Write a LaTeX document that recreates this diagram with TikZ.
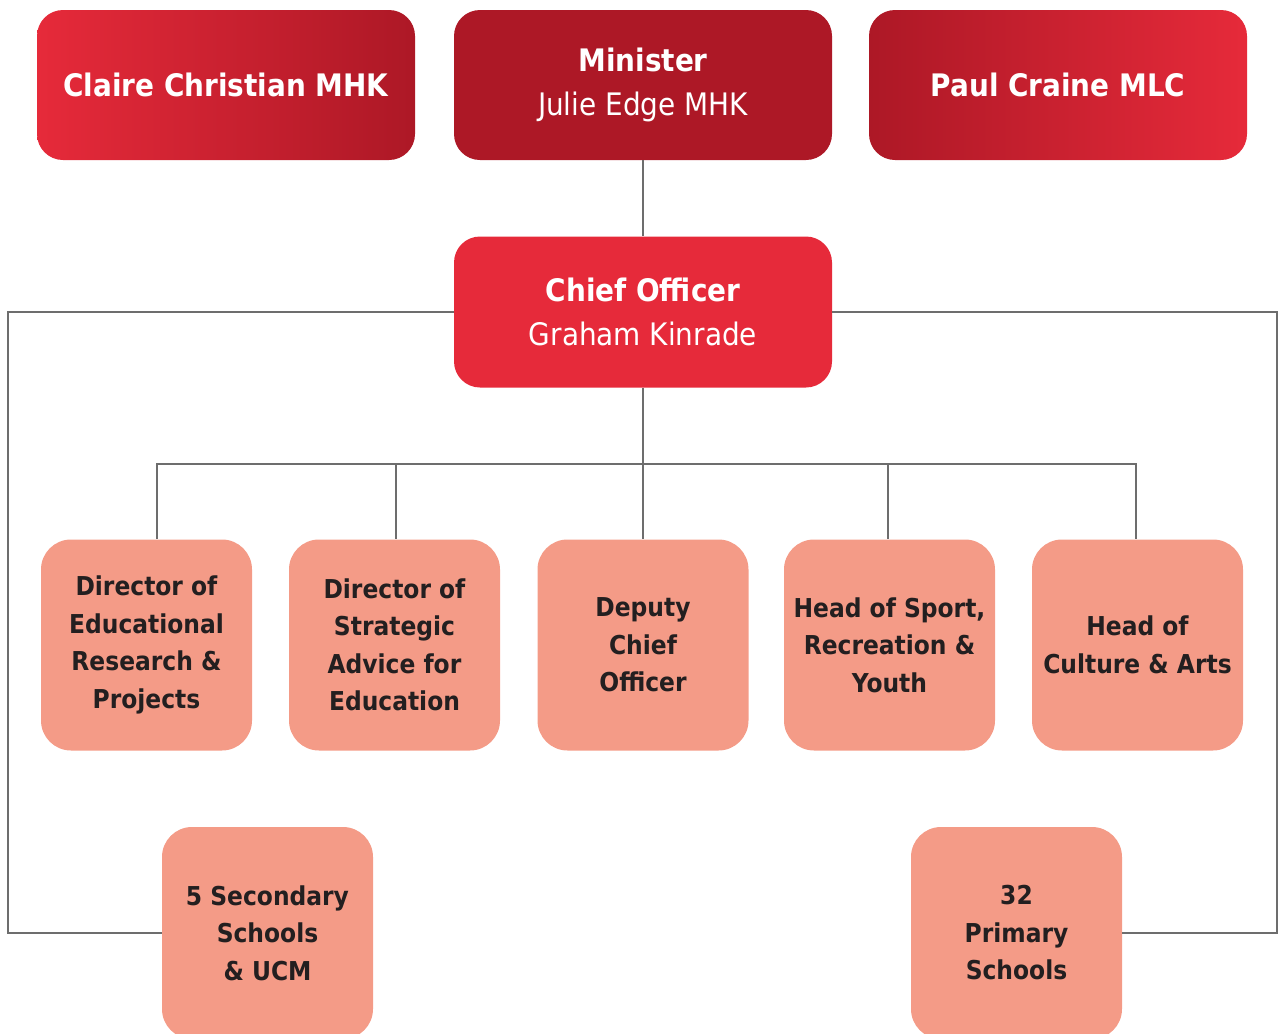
\documentclass[tikz,border=0pt]{standalone}
\usepackage{fontspec}
\setmainfont{DejaVu Sans Condensed}
\definecolor{darkred}{HTML}{AD1826}
\definecolor{brightred}{HTML}{E62A3A}
\definecolor{salmon}{HTML}{F49B87}
\definecolor{ink}{HTML}{231F20}
\definecolor{wire}{HTML}{6D6D6D}
\begin{document}
\begin{tikzpicture}[x=1pt,y=-1pt,
  topbox/.style={minimum width=378pt,minimum height=150pt,rounded corners=26pt,
    inner sep=0pt,align=center,text=white,font=\fontsize{31}{44}\selectfont},
  unitbox/.style={minimum width=211pt,minimum height=211pt,rounded corners=30pt,
    inner sep=0pt,align=center,fill=salmon,text=ink,
    font=\bfseries\fontsize{26}{37.5}\selectfont},
  wireline/.style={draw=wire,line width=2pt}]
\useasboundingbox (0,0) rectangle (1278,1034);
\clip (0,0) rectangle (1278,1034);

% leadership row
\node[topbox,left color=brightred,right color=darkred] (claire) at (226,85)
  {\bfseries Claire Christian MHK};
\node[topbox,fill=darkred] (minister) at (643,85)
  {\textbf{Minister}\\Julie Edge MHK};
\node[topbox,left color=darkred,right color=brightred] (paul) at (1058,85)
  {\bfseries Paul Craine MLC};

\node[topbox,fill=brightred,minimum height=151pt] (chief) at (643,312)
  {\textbf{Chief Officer}\\Graham Kinrade};

% senior team
\node[unitbox] (dir1) at (146.5,645) {Director of\\Educational\\Research \&\\Projects};
\node[unitbox] (dir2) at (394.5,645) {Director of\\Strategic\\Advice for\\Education};
\node[unitbox] (deputy) at (643,645) {Deputy\\Chief\\Officer};
\node[unitbox] (sport) at (889.5,645) {Head of Sport,\\Recreation \&\\Youth};
\node[unitbox] (culture) at (1137.5,645) {Head of\\Culture \& Arts};

% schools
\node[unitbox,minimum height=212pt] (secondary) at (267.5,933) {5 Secondary\\Schools\\\& UCM};
\node[unitbox,minimum height=212pt] (primary) at (1016.5,933) {32\\Primary\\Schools};

% connectors
\coordinate (bus) at (643,464);
\coordinate (lefttop) at (8,312);
\coordinate (righttop) at (1277,312);
\begin{scope}[on background layer/.try]
\draw[wireline] (minister.south) -- (chief.north);
\draw[wireline] (chief.south) -- (bus);
\draw[wireline] (bus) -| ([xshift=10.5pt]dir1.north);
\draw[wireline] (bus) -| ([xshift=1.5pt]dir2.north);
\draw[wireline] (bus) -- (deputy.north);
\draw[wireline] (bus) -| ([xshift=-1.5pt]sport.north);
\draw[wireline] (bus) -| ([xshift=-1.5pt]culture.north);
\draw[wireline] (chief.west) -- (lefttop) |- (secondary.west);
\draw[wireline] (chief.east) -- (righttop) |- (primary.east);
\end{scope}
\end{tikzpicture}
\end{document}
